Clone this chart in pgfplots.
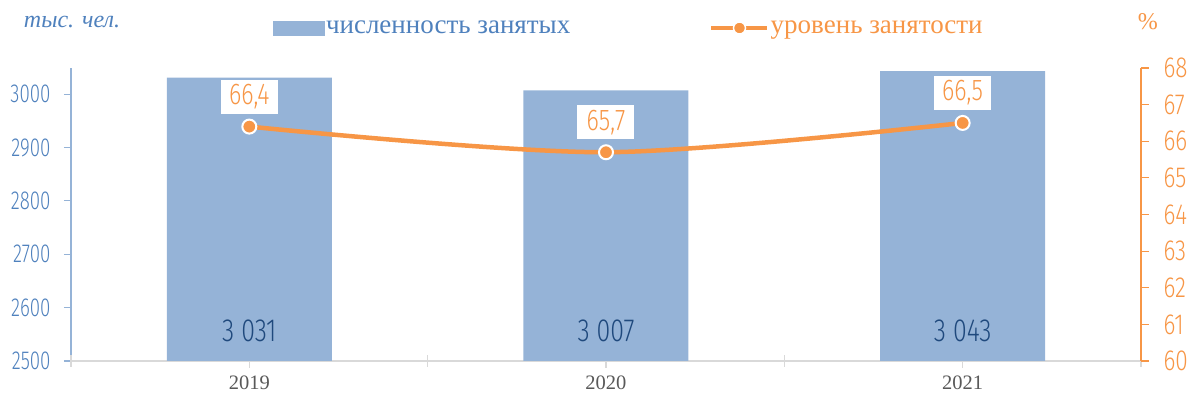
\documentclass[border=0pt]{standalone}
\usepackage{fontspec}
\usepackage{pgfplots}
\pgfplotsset{compat=1.18}
\setmainfont{Liberation Serif}
\newfontfamily\condfont[FakeStretch=0.72]{Fira Sans Light}
\newfontfamily\lblfont[FakeStretch=0.78]{Fira Sans Light}
\definecolor{barblue}{HTML}{95B3D7}
\definecolor{txtblue}{HTML}{4F81BD}
\definecolor{darkblue}{HTML}{1F497D}
\definecolor{orng}{HTML}{F79646}
\definecolor{axgray}{HTML}{D9D9D9}
\definecolor{lblgray}{HTML}{595959}
\begin{document}
\begin{tikzpicture}
\path[use as bounding box] (-71pt,-42pt) rectangle (1118pt,361pt);
\begin{axis}[
  scale only axis, width=1070pt, height=293pt,
  xmin=-0.5, xmax=2.5, ymin=2500, ymax=3049,
  clip=false,
  axis x line*=bottom, axis y line*=left,
  x axis line style={axgray, line width=1.2pt, -},
  y axis line style={barblue, line width=1.4pt, -},
  xtick={0,1,2}, xticklabels={2019,2020,2021},
  ytick={2500,2600,...,3000},
  tick align=outside, major tick length=7pt,
  xtick style={axgray, line width=1.2pt},
  ytick style={barblue, line width=1.2pt},
  extra x ticks={-0.5,0.5,1.5,2.5}, extra x tick labels={},
  extra x tick style={tick align=center, major tick length=12pt},
  xticklabel style={font=\fontsize{20.5}{20.5}\selectfont, text=lblgray, yshift=-4pt},
  yticklabel style={font=\condfont\fontsize{26}{26}\selectfont, text=txtblue, xshift=-10pt},
  /pgf/number format/assume math mode=true,
  /pgf/number format/set thousands separator={},
  legend style={at={(0.1888,1.1365)}, anchor=west, draw=none, fill=none, inner sep=0pt, outer sep=0pt,
     font=\fontsize{27}{27}\selectfont, text=txtblue, nodes={inner sep=1pt}},
]
\addplot[ybar, bar width=165pt, fill=barblue, draw=none,
  legend image code/.code={\fill[barblue] (0pt,-7.5pt) rectangle (52pt,7.5pt);}]
  coordinates {(0,3031) (1,3007) (2,3043)};
\addlegendentry{численность занятых}
\addplot[draw=none, forget plot, nodes near coords, point meta=explicit symbolic,
  nodes near coords style={font=\lblfont\fontsize{32}{32}\selectfont, text=darkblue, anchor=center}]
  coordinates {(0,2556)[3 031] (1,2556)[3 007] (2,2556)[3 043]};
\node[font=\itshape\fontsize{24}{24}\selectfont, text=txtblue] at (rel axis cs:0.001,1.157) {тыс. чел.};
\end{axis}
\begin{axis}[
  scale only axis, width=1070pt, height=293pt,
  xmin=-0.5, xmax=2.5, ymin=60, ymax=68,
  clip=false,
  axis x line=none, axis y line*=right,
  y axis line style={orng, line width=1.4pt, -},
  ytick={60,61,...,68},
  tick align=outside, major tick length=8pt,
  ytick style={orng, line width=1.2pt},
  yticklabel style={font=\lblfont\fontsize{29}{29}\selectfont, text=orng, xshift=11pt},
  /pgf/number format/assume math mode=true,
  legend style={at={(0.5965,1.1365)}, anchor=west, draw=none, fill=none, inner sep=0pt, outer sep=0pt,
     font=\fontsize{27}{27}\selectfont, text=orng, nodes={inner sep=1pt}},
]
\addplot[orng, line width=4.5pt, smooth, mark=*, mark size=7pt,
  mark options={fill=orng, draw=white, line width=2pt},
  nodes near coords, point meta=explicit symbolic,
  nodes near coords style={font=\lblfont\fontsize{30}{30}\selectfont, text=orng, fill=white,
     anchor=south, yshift=12pt, minimum width=57pt, minimum height=34pt, inner sep=2pt},
  legend image code/.code={\draw[orng, line width=4.5pt] (0pt,0pt) -- (56pt,0pt);
     \draw[white, line width=1.5pt, fill=orng] (28pt,0pt) circle (6pt);}]
  coordinates {(0,66.4)[66,4] (1,65.7)[65,7] (2,66.5)[66,5]};
\addlegendentry{уровень занятости}
\node[font=\fontsize{24}{24}\selectfont, text=orng] at (rel axis cs:1.0065,1.157) {\%};
\end{axis}
\end{tikzpicture}
\end{document}
